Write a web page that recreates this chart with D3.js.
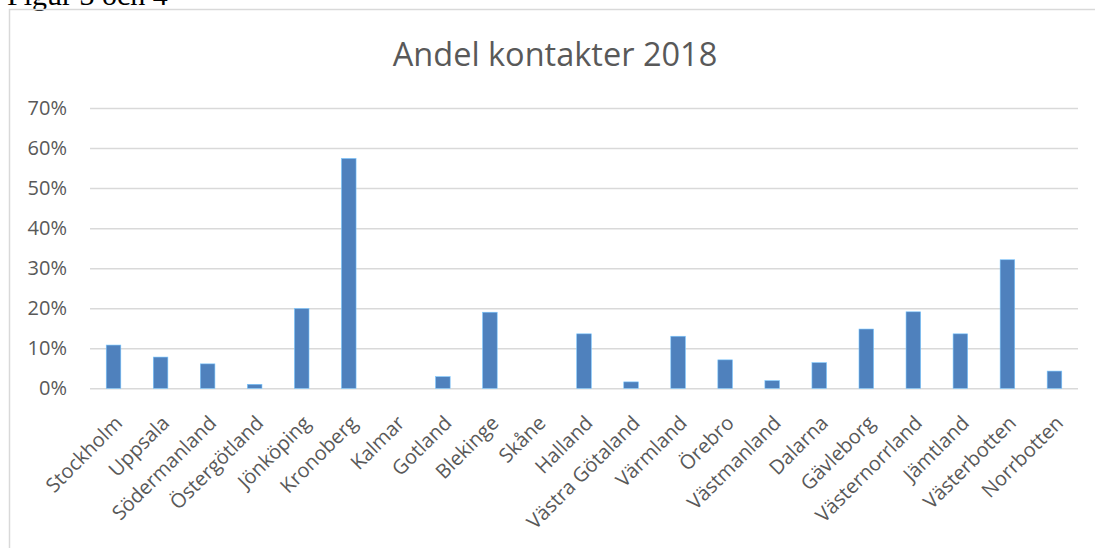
<!DOCTYPE html>
<html>
<head>
<meta charset="utf-8">
<script src="https://cdn.jsdelivr.net/npm/d3@7"></script>
<style>
  body { margin: 0; background: #fff; }
  svg { display: block; }
</style>
</head>
<body>
<div id="vis"></div>
<script>
var categories = ['Stockholm', 'Uppsala', 'Södermanland', 'Östergötland', 'Jönköping',
  'Kronoberg', 'Kalmar', 'Gotland', 'Blekinge', 'Skåne', 'Halland', 'Västra Götaland',
  'Värmland', 'Örebro', 'Västmanland', 'Dalarna', 'Gävleborg', 'Västernorrland',
  'Jämtland', 'Västerbotten', 'Norrbotten'];

var values = [0.108, 0.078, 0.061, 0.010, 0.199, 0.574, 0, 0.029, 0.190, 0, 0.136, 0.016,
  0.130, 0.071, 0.019, 0.064, 0.148, 0.191, 0.136, 0.321, 0.043];

var yTicks = [0, 0.1, 0.2, 0.3, 0.4, 0.5, 0.6, 0.7];

var title = 'Andel kontakter 2018';

var width = 1095,
    height = 548,
    plotLeft = 90,
    plotRight = 1078,
    plotTop = 108,
    plotBottom = 388.3;

var textColor = '#595959',
    gridColor = '#d9d9d9',
    barColor = '#4f81bd';

var svg = d3.select('#vis')
  .append('svg')
    .attr('width', width)
    .attr('height', height);

// caption of the document, cut by the top edge
svg.append('text')
  .attr('x', 7)
  .attr('y', 5)
  .style('font-family', '"Liberation Serif", "Times New Roman", serif')
  .style('font-size', '30px')
  .style('fill', '#000')
  .text('Figur 3 och 4');

// chart frame
svg.append('path')
  .attr('d', 'M9.5,' + height + 'V9.5H' + width)
  .attr('fill', 'none')
  .attr('stroke', gridColor)
  .attr('stroke-width', 1.5);

var xScale = d3.scaleBand()
  .domain(categories)
  .range([plotLeft, plotRight])
  .paddingInner(0.69)
  .paddingOuter(0.345);

var yScale = d3.scaleLinear()
  .domain([0, 0.7])
  .range([plotBottom, plotTop]);

svg.append('text')
  .attr('x', 555)
  .attr('y', 66)
  .attr('text-anchor', 'middle')
  .style('font-family', '"Open Sans", sans-serif')
  .style('font-size', '32.5px')
  .style('fill', textColor)
  .text(title);

var yAxis = svg.append('g')
  .attr('transform', 'translate(' + plotLeft + ',0)')
  .call(d3.axisLeft(yScale)
    .tickValues(yTicks)
    .tickSize(-(plotRight - plotLeft))
    .tickPadding(23)
    .tickFormat(d3.format('.0%')));

yAxis.select('.domain').remove();
yAxis.selectAll('.tick line')
  .attr('stroke', gridColor)
  .attr('stroke-width', 1.5);
yAxis.selectAll('.tick text')
  .style('font-family', '"Open Sans", sans-serif')
  .style('font-size', '20px')
  .style('fill', textColor);

svg.selectAll('rect.bar')
  .data(values)
  .enter()
  .append('rect')
    .attr('class', 'bar')
    .attr('x', function(d, i) { return xScale(categories[i]); })
    .attr('width', xScale.bandwidth())
    .attr('y', function(d) { return yScale(d); })
    .attr('height', function(d) { return plotBottom - yScale(d); })
    .style('fill', barColor)
    .style('stroke', d3.rgb(barColor).brighter(1.2))
    .style('stroke-width', 0.6)
    .style('stroke-opacity', function(d) { return d > 0 ? 1 : 0; });

var xAxis = svg.append('g')
  .attr('transform', 'translate(0,' + plotBottom + ')')
  .call(d3.axisBottom(xScale).tickSize(0).tickPadding(0));

xAxis.select('.domain').remove();
xAxis.selectAll('.tick text')
  .attr('y', 0)
  .attr('dy', 0)
  .attr('transform', 'translate(10,36) rotate(-45)')
  .attr('text-anchor', 'end')
  .style('font-family', '"Open Sans", sans-serif')
  .style('font-size', '20px')
  .style('fill', textColor);
</script>
</body>
</html>
